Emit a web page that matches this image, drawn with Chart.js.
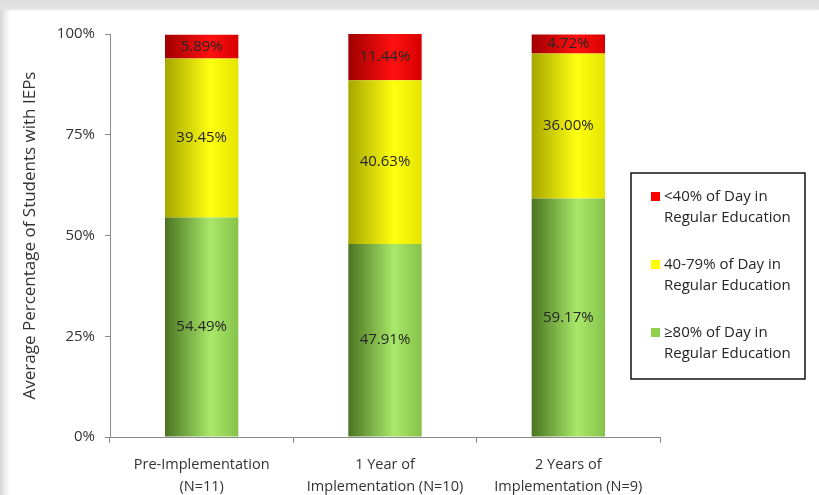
<!DOCTYPE html>
<html>
<head>
<meta charset="utf-8">
<script src="https://cdn.jsdelivr.net/npm/chart.js@4.4.0/dist/chart.umd.min.js"></script>
<style>
  html, body { margin: 0; padding: 0; }
  body {
    width: 819px;
    height: 495px;
    overflow: hidden;
    background:
      linear-gradient(to bottom, #dcdcdc 0px, #e3e3e3 9px, rgba(255,255,255,0) 11px),
      linear-gradient(to right, #d4d4d4 0px, #ececec 5px, #ffffff 10px);
  }
  #wrap { position: relative; width: 819px; height: 495px; }
</style>
</head>
<body>
<div id="wrap"><canvas id="chart" width="819" height="495"></canvas></div>
<script>
// categories (two lines each) and the three stacked shares
const categories = [
    ['Pre-Implementation', '(N=11)'],
    ['1 Year of', 'Implementation (N=10)'],
    ['2 Years of', 'Implementation (N=9)']
];
const over80 = [54.49, 47.91, 59.17];
const from40to79 = [39.45, 40.63, 36.00];
const under40 = [5.89, 11.44, 4.72];
const yTicks = [0, 25, 50, 75, 100];

const legendLines = [
    ['≥80% of Day in', 'Regular Education'],
    ['40-79% of Day in', 'Regular Education'],
    ['<40% of Day in', 'Regular Education']
];

Chart.defaults.font.family = "'Open Sans', sans-serif";
Chart.defaults.font.size = 15;
Chart.defaults.color = '#333';

// cylinder-like shading across each bar: dark left edge, bright right of centre
function barShade(dark, light, edge) {
    return function (ctx) {
        const chart = ctx.chart;
        const xs = chart.scales.x;
        if (!xs || !chart.chartArea || ctx.dataIndex === undefined) return light;
        const cx = xs.getPixelForValue(ctx.dataIndex);
        const w = xs.width / categories.length * 0.4;
        const g = chart.ctx.createLinearGradient(cx - w / 2, 0, cx + w / 2, 0);
        g.addColorStop(0, dark);
        g.addColorStop(0.62, light);
        g.addColorStop(1, edge);
        return g;
    };
}

// value text in the middle of every segment
const valueLabels = {
    id: 'valueLabels',
    afterDatasetsDraw(chart) {
        const ctx = chart.ctx;
        ctx.save();
        ctx.font = "15px 'Open Sans', sans-serif";
        ctx.fillStyle = '#262626';
        ctx.textAlign = 'center';
        ctx.textBaseline = 'middle';
        chart.data.datasets.forEach((ds, i) => {
            chart.getDatasetMeta(i).data.forEach((bar, j) => {
                const p = bar.getCenterPoint();
                ctx.fillText(ds.data[j].toFixed(2) + '%', p.x, p.y);
            });
        });
        ctx.restore();
    }
};

// boxed legend on the right, top item = top segment
const boxLegend = {
    id: 'boxLegend',
    afterDraw(chart) {
        const ctx = chart.ctx;
        const left = 631, top = 173, w = 174, h = 206;
        ctx.save();
        ctx.fillStyle = '#fff';
        ctx.fillRect(left, top, w, h);
        ctx.strokeStyle = '#111';
        ctx.lineWidth = 1.5;
        ctx.strokeRect(left, top, w, h);
        ctx.font = "15px 'Open Sans', sans-serif";
        ctx.textBaseline = 'middle';
        ctx.textAlign = 'left';
        const sets = chart.data.datasets.map((ds, i) => ({ ds, i })).reverse();
        sets.forEach((item, k) => {
            const y = top + 24 + k * 68;
            ctx.fillStyle = item.ds.swatch;
            ctx.fillRect(left + 20, y - 5, 9, 9);
            ctx.fillStyle = '#262626';
            const lines = legendLines[item.i];
            ctx.fillText(lines[0], left + 33, y);
            ctx.fillText(lines[1], left + 33, y + 21);
        });
        ctx.restore();
    }
};

new Chart(document.getElementById('chart'), {
    type: 'bar',
    data: {
        labels: categories,
        datasets: [
            {
                label: legendLines[0].join(' '),
                data: over80,
                swatch: '#92d050',
                backgroundColor: barShade('#4a7420', '#a9e86a', '#86c24a')
            },
            {
                label: legendLines[1].join(' '),
                data: from40to79,
                swatch: '#ffff00',
                backgroundColor: barShade('#a6a600', '#ffff10', '#e4e400')
            },
            {
                label: legendLines[2].join(' '),
                data: under40,
                swatch: '#ff0000',
                backgroundColor: barShade('#a00000', '#ff1010', '#d60000')
            }
        ]
    },
    options: {
        responsive: false,
        animation: false,
        barPercentage: 0.4,
        categoryPercentage: 1,
        layout: { padding: { top: 34, right: 159, left: 0, bottom: 0 } },
        plugins: {
            legend: { display: false },
            tooltip: { enabled: false }
        },
        scales: {
            x: {
                stacked: true,
                afterFit: (s) => { s.height = 58; },
                grid: { offset: true, drawOnChartArea: false, tickLength: 6, color: '#8a8a8a' },
                border: { color: '#8a8a8a' },
                ticks: { padding: 11, color: '#333', font: { size: 14.5, lineHeight: 1.5 }, maxRotation: 0 }
            },
            y: {
                stacked: true,
                min: 0,
                max: 100,
                afterFit: (s) => { s.width = 110; },
                afterBuildTicks: (s) => { s.ticks = yTicks.map(v => ({ value: v })); },
                grid: { drawOnChartArea: false, tickLength: 5, color: '#8a8a8a' },
                border: { color: '#8a8a8a' },
                ticks: { padding: 10, color: '#333', callback: (v) => v + '%' },
                title: {
                    display: true,
                    text: 'Average Percentage of Students with IEPs',
                    color: '#333',
                    font: { size: 17 },
                    padding: { top: 20, bottom: 0 }
                }
            }
        }
    },
    plugins: [valueLabels, boxLegend]
});
</script>
</body>
</html>
